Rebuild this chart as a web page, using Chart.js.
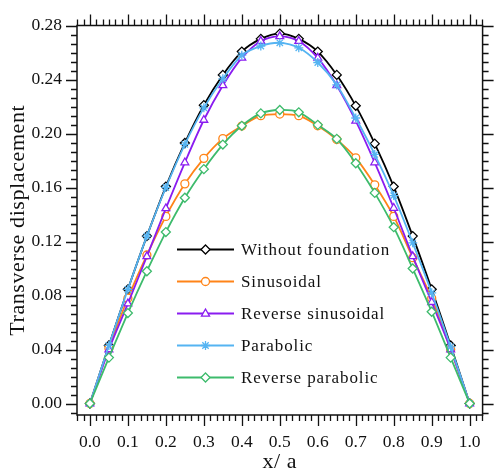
<!DOCTYPE html>
<html>
<head>
<meta charset="utf-8">
<script src="https://cdn.jsdelivr.net/npm/chart.js@4.4.0/dist/chart.umd.min.js"></script>
<style>
  body { margin: 0; background: #fff; }
  canvas { display: block; }
</style>
</head>
<body>
<canvas id="plate" width="498" height="473"></canvas>
<script>
// x/a positions along the plate
const xPos = [0, 0.05, 0.1, 0.15, 0.2, 0.25, 0.3, 0.35, 0.4, 0.45, 0.5,
              0.55, 0.6, 0.65, 0.7, 0.75, 0.8, 0.85, 0.9, 0.95, 1.0];

const withoutFoundation = [0, 0.043, 0.0846, 0.124, 0.1607, 0.193, 0.221, 0.2434, 0.2607, 0.2701, 0.274,
                           0.2701, 0.2607, 0.2434, 0.2205, 0.1925, 0.1607, 0.124, 0.0846, 0.043, 0];
const sinusoidal = [0, 0.041, 0.078, 0.110, 0.1386, 0.1627, 0.1816, 0.1962, 0.2055, 0.2132, 0.2144,
                    0.2132, 0.2057, 0.1955, 0.182, 0.162, 0.1386, 0.108, 0.078, 0.040, 0];
const reverseSinusoidal = [0, 0.040, 0.074, 0.109, 0.1445, 0.1785, 0.210, 0.2356, 0.256, 0.2684, 0.272,
                           0.2684, 0.256, 0.2356, 0.2094, 0.1785, 0.1448, 0.109, 0.075, 0.040, 0];
const parabolic = [0, 0.043, 0.0846, 0.124, 0.160, 0.192, 0.219, 0.2405, 0.258, 0.2648, 0.2672,
                   0.2635, 0.2526, 0.236, 0.2115, 0.1845, 0.154, 0.119, 0.082, 0.042, 0];
const reverseParabolic = [0, 0.034, 0.067, 0.098, 0.127, 0.1524, 0.1736, 0.1918, 0.2057, 0.2149, 0.2174,
                          0.2157, 0.2064, 0.196, 0.178, 0.156, 0.1306, 0.100, 0.068, 0.034, 0];

const seriesNames = ['Without foundation', 'Sinusoidal', 'Reverse sinusoidal', 'Parabolic', 'Reverse parabolic'];

const xTicks = [0, 0.1, 0.2, 0.3, 0.4, 0.5, 0.6, 0.7, 0.8, 0.9, 1.0];
const yTicks = [0, 0.04, 0.08, 0.12, 0.16, 0.20, 0.24, 0.28];

const serif = '"Liberation Serif", "Times New Roman", serif';

const styles = [
  { color: '#000000', shape: 'rectRot', radius: 4.5 },
  { color: '#ff8418', shape: 'circle', radius: 4 },
  { color: '#8a1cf0', shape: 'triangle', radius: 4.5 },
  { color: '#55b4f2', shape: 'star', radius: 4.5 },
  { color: '#3dbb6c', shape: 'rectRot', radius: 4.5 }
];

function toPoints(values) {
  return values.map((v, i) => ({ x: xPos[i], y: v }));
}

const allSeries = [withoutFoundation, sinusoidal, reverseSinusoidal, parabolic, reverseParabolic];

const datasets = allSeries.map((vals, i) => ({
  label: seriesNames[i],
  data: toPoints(vals),
  borderColor: styles[i].color,
  backgroundColor: '#ffffff',
  borderWidth: 1.8,
  pointStyle: styles[i].shape,
  pointRadius: styles[i].radius,
  pointBorderWidth: 1.3,
  pointBackgroundColor: '#ffffff',
  pointBorderColor: styles[i].color,
  tension: 0.3,
  clip: false,
  order: allSeries.length - i
}));

function drawMarker(ctx, shape, x, y, r, color) {
  ctx.save();
  ctx.strokeStyle = color;
  ctx.fillStyle = '#fff';
  ctx.lineWidth = 1.3;
  ctx.beginPath();
  if (shape === 'rectRot') {
    ctx.moveTo(x, y - r); ctx.lineTo(x + r, y); ctx.lineTo(x, y + r); ctx.lineTo(x - r, y); ctx.closePath();
    ctx.fill(); ctx.stroke();
  } else if (shape === 'circle') {
    ctx.arc(x, y, r, 0, Math.PI * 2);
    ctx.fill(); ctx.stroke();
  } else if (shape === 'triangle') {
    ctx.moveTo(x, y - r); ctx.lineTo(x + r * 0.9, y + r * 0.6); ctx.lineTo(x - r * 0.9, y + r * 0.6); ctx.closePath();
    ctx.fill(); ctx.stroke();
  } else if (shape === 'star') {
    ctx.moveTo(x - r, y); ctx.lineTo(x + r, y);
    ctx.moveTo(x, y - r); ctx.lineTo(x, y + r);
    const d = r * 0.707;
    ctx.moveTo(x - d, y - d); ctx.lineTo(x + d, y + d);
    ctx.moveTo(x - d, y + d); ctx.lineTo(x + d, y - d);
    ctx.stroke();
  }
  ctx.restore();
}

// frame, outward major/minor ticks on all four sides, axis titles and legend
const framePlugin = {
  id: 'frame',
  afterDraw(chart) {
    const ctx = chart.ctx;
    const xs = chart.scales.x, ys = chart.scales.y;
    const a = chart.chartArea;
    const major = 11, minor = 6;
    ctx.save();
    ctx.strokeStyle = '#111';
    ctx.lineWidth = 1.5;
    ctx.strokeRect(a.left, a.top, a.right - a.left, a.bottom - a.top);

    ctx.lineWidth = 1.3;
    ctx.beginPath();
    const xStep = 0.1 / 6;
    for (let k = -3; k <= 63; k++) {
      const v = k * xStep;
      if (v < xs.min - 1e-9 || v > xs.max + 1e-9) continue;
      const px = Math.round(xs.getPixelForValue(v)) + 0.5;
      const len = (k % 6 === 0) ? major : minor;
      ctx.moveTo(px, a.bottom); ctx.lineTo(px, a.bottom + len);
      ctx.moveTo(px, a.top); ctx.lineTo(px, a.top - len);
    }
    const yStep = 0.04 / 6;
    for (let k = -3; k <= 42; k++) {
      const v = k * yStep;
      if (v < ys.min - 1e-9 || v > ys.max + 1e-9) continue;
      const py = Math.round(ys.getPixelForValue(v)) + 0.5;
      const len = (k % 6 === 0) ? major : minor;
      ctx.moveTo(a.left, py); ctx.lineTo(a.left - len, py);
      ctx.moveTo(a.right, py); ctx.lineTo(a.right + len, py);
    }
    ctx.stroke();

    // axis titles
    ctx.fillStyle = '#111';
    ctx.font = '22px ' + serif;
    ctx.textAlign = 'center';
    ctx.textBaseline = 'middle';
    ctx.letterSpacing = '0.6px';
    ctx.fillText('x/ a', (a.left + a.right) / 2, 462);
    ctx.save();
    ctx.translate(18, (a.top + a.bottom) / 2);
    ctx.rotate(-Math.PI / 2);
    ctx.fillText('Transverse displacement', 0, 0);
    ctx.restore();

    // legend
    ctx.font = '17px ' + serif;
    ctx.textAlign = 'left';
    ctx.letterSpacing = '0.9px';
    const rows = [249.5, 281.5, 313.5, 345.5, 377.5];
    seriesNames.forEach((name, i) => {
      const y = rows[i];
      ctx.strokeStyle = styles[i].color;
      ctx.lineWidth = 1.8;
      ctx.beginPath();
      ctx.moveTo(177, y); ctx.lineTo(234, y);
      ctx.stroke();
      drawMarker(ctx, styles[i].shape, 205.5, y, styles[i].radius, styles[i].color);
      ctx.fillStyle = '#111';
      ctx.fillText(name, 241, y + 1);
    });
    ctx.restore();
  }
};

new Chart(document.getElementById('plate'), {
  type: 'line',
  data: { datasets: datasets },
  options: {
    responsive: false,
    animation: false,
    devicePixelRatio: 1,
    layout: { padding: { top: 19, right: 12, left: 0, bottom: 0 } },
    plugins: { legend: { display: false }, tooltip: { enabled: false } },
    scales: {
      x: {
        type: 'linear',
        min: -0.034,
        max: 1.034,
        afterBuildTicks: s => { s.ticks = xTicks.map(v => ({ value: v })); },
        afterFit: s => { s.height = 58; },
        grid: { display: false, drawTicks: false },
        border: { display: false },
        ticks: {
          autoSkip: false,
          maxRotation: 0,
          padding: 17,
          color: '#111',
          font: { family: serif, size: 17.5 },
          callback: v => Number(v).toFixed(1)
        }
      },
      y: {
        type: 'linear',
        min: -0.0085,
        max: 0.28,
        afterBuildTicks: s => { s.ticks = yTicks.map(v => ({ value: v })); },
        afterFit: s => { s.width = 77; },
        grid: { display: false, drawTicks: false },
        border: { display: false },
        ticks: {
          autoSkip: false,
          padding: 15,
          color: '#111',
          font: { family: serif, size: 17.5 },
          callback: v => Number(v).toFixed(2)
        }
      }
    }
  },
  plugins: [framePlugin]
});
</script>
</body>
</html>
